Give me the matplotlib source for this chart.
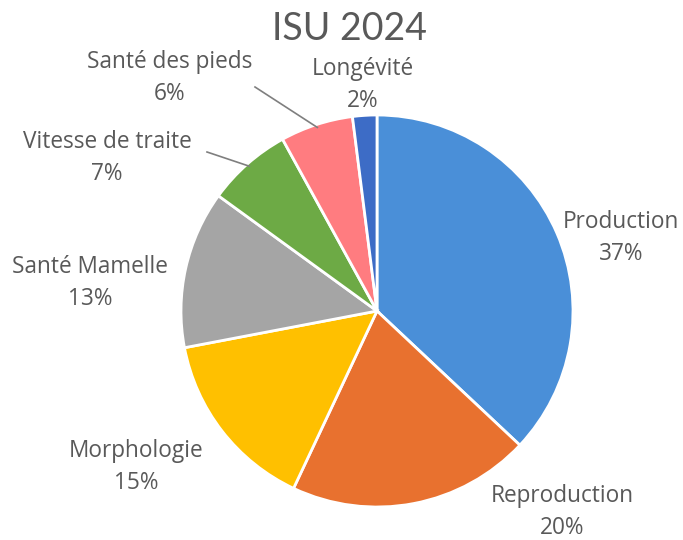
import numpy as np
import matplotlib.pyplot as plt

# data
categories = ["Production", "Reproduction", "Morphologie", "Santé Mamelle",
              "Vitesse de traite", "Santé des pieds", "Longévité"]
shares = [37, 20, 15, 13, 7, 6, 2]
colors = ["#4A8FD8", "#E8712F", "#FFC000", "#A5A5A5", "#6DAA45", "#FF7C80", "#3D6CC6"]

# label placement (pixels, y measured from top)
label_pos = [(621, 238), (562, 512), (136, 467), (90, 283), (107, 158), (170, 78), (363, 85)]
leaders = {4: (207, 152), 5: (255, 87)}

W, H = 683, 540
fig = plt.figure(figsize=(W / 100, H / 100), dpi=100)
ax = fig.add_axes([0, 0, 1, 1])

cx, cy, r = 377, H - 311, 196
wedges, _ = ax.pie(shares, colors=colors, startangle=90, counterclock=False,
                   center=(cx, cy), radius=r, frame=True,
                   wedgeprops=dict(edgecolor="white", linewidth=2))
ax.set_xlim(0, W)
ax.set_ylim(0, H)
ax.set_aspect("equal")
ax.axis("off")

txt = "#595959"
for i, (name, val) in enumerate(zip(categories, shares)):
    x, y = label_pos[i]
    ax.text(x, H - y, f"{name}\n{val}%", ha="center", va="center", fontsize=16.3,
            color=txt, family="Open Sans", linespacing=1.45)
    if i in leaders:
        w = wedges[i]
        ang = np.deg2rad((w.theta1 + w.theta2) / 2)
        ex, ey = cx + (r - 3) * np.cos(ang), cy + (r - 3) * np.sin(ang)
        lx, ly = leaders[i]
        ax.plot([lx, ex], [H - ly, ey], color="#7f7f7f", lw=1.2)

ax.text(350, H - 40, "ISU 2024", ha="center", va="baseline", fontsize=27,
        color=txt, family="Lato")

plt.savefig("out.png", dpi=100)
